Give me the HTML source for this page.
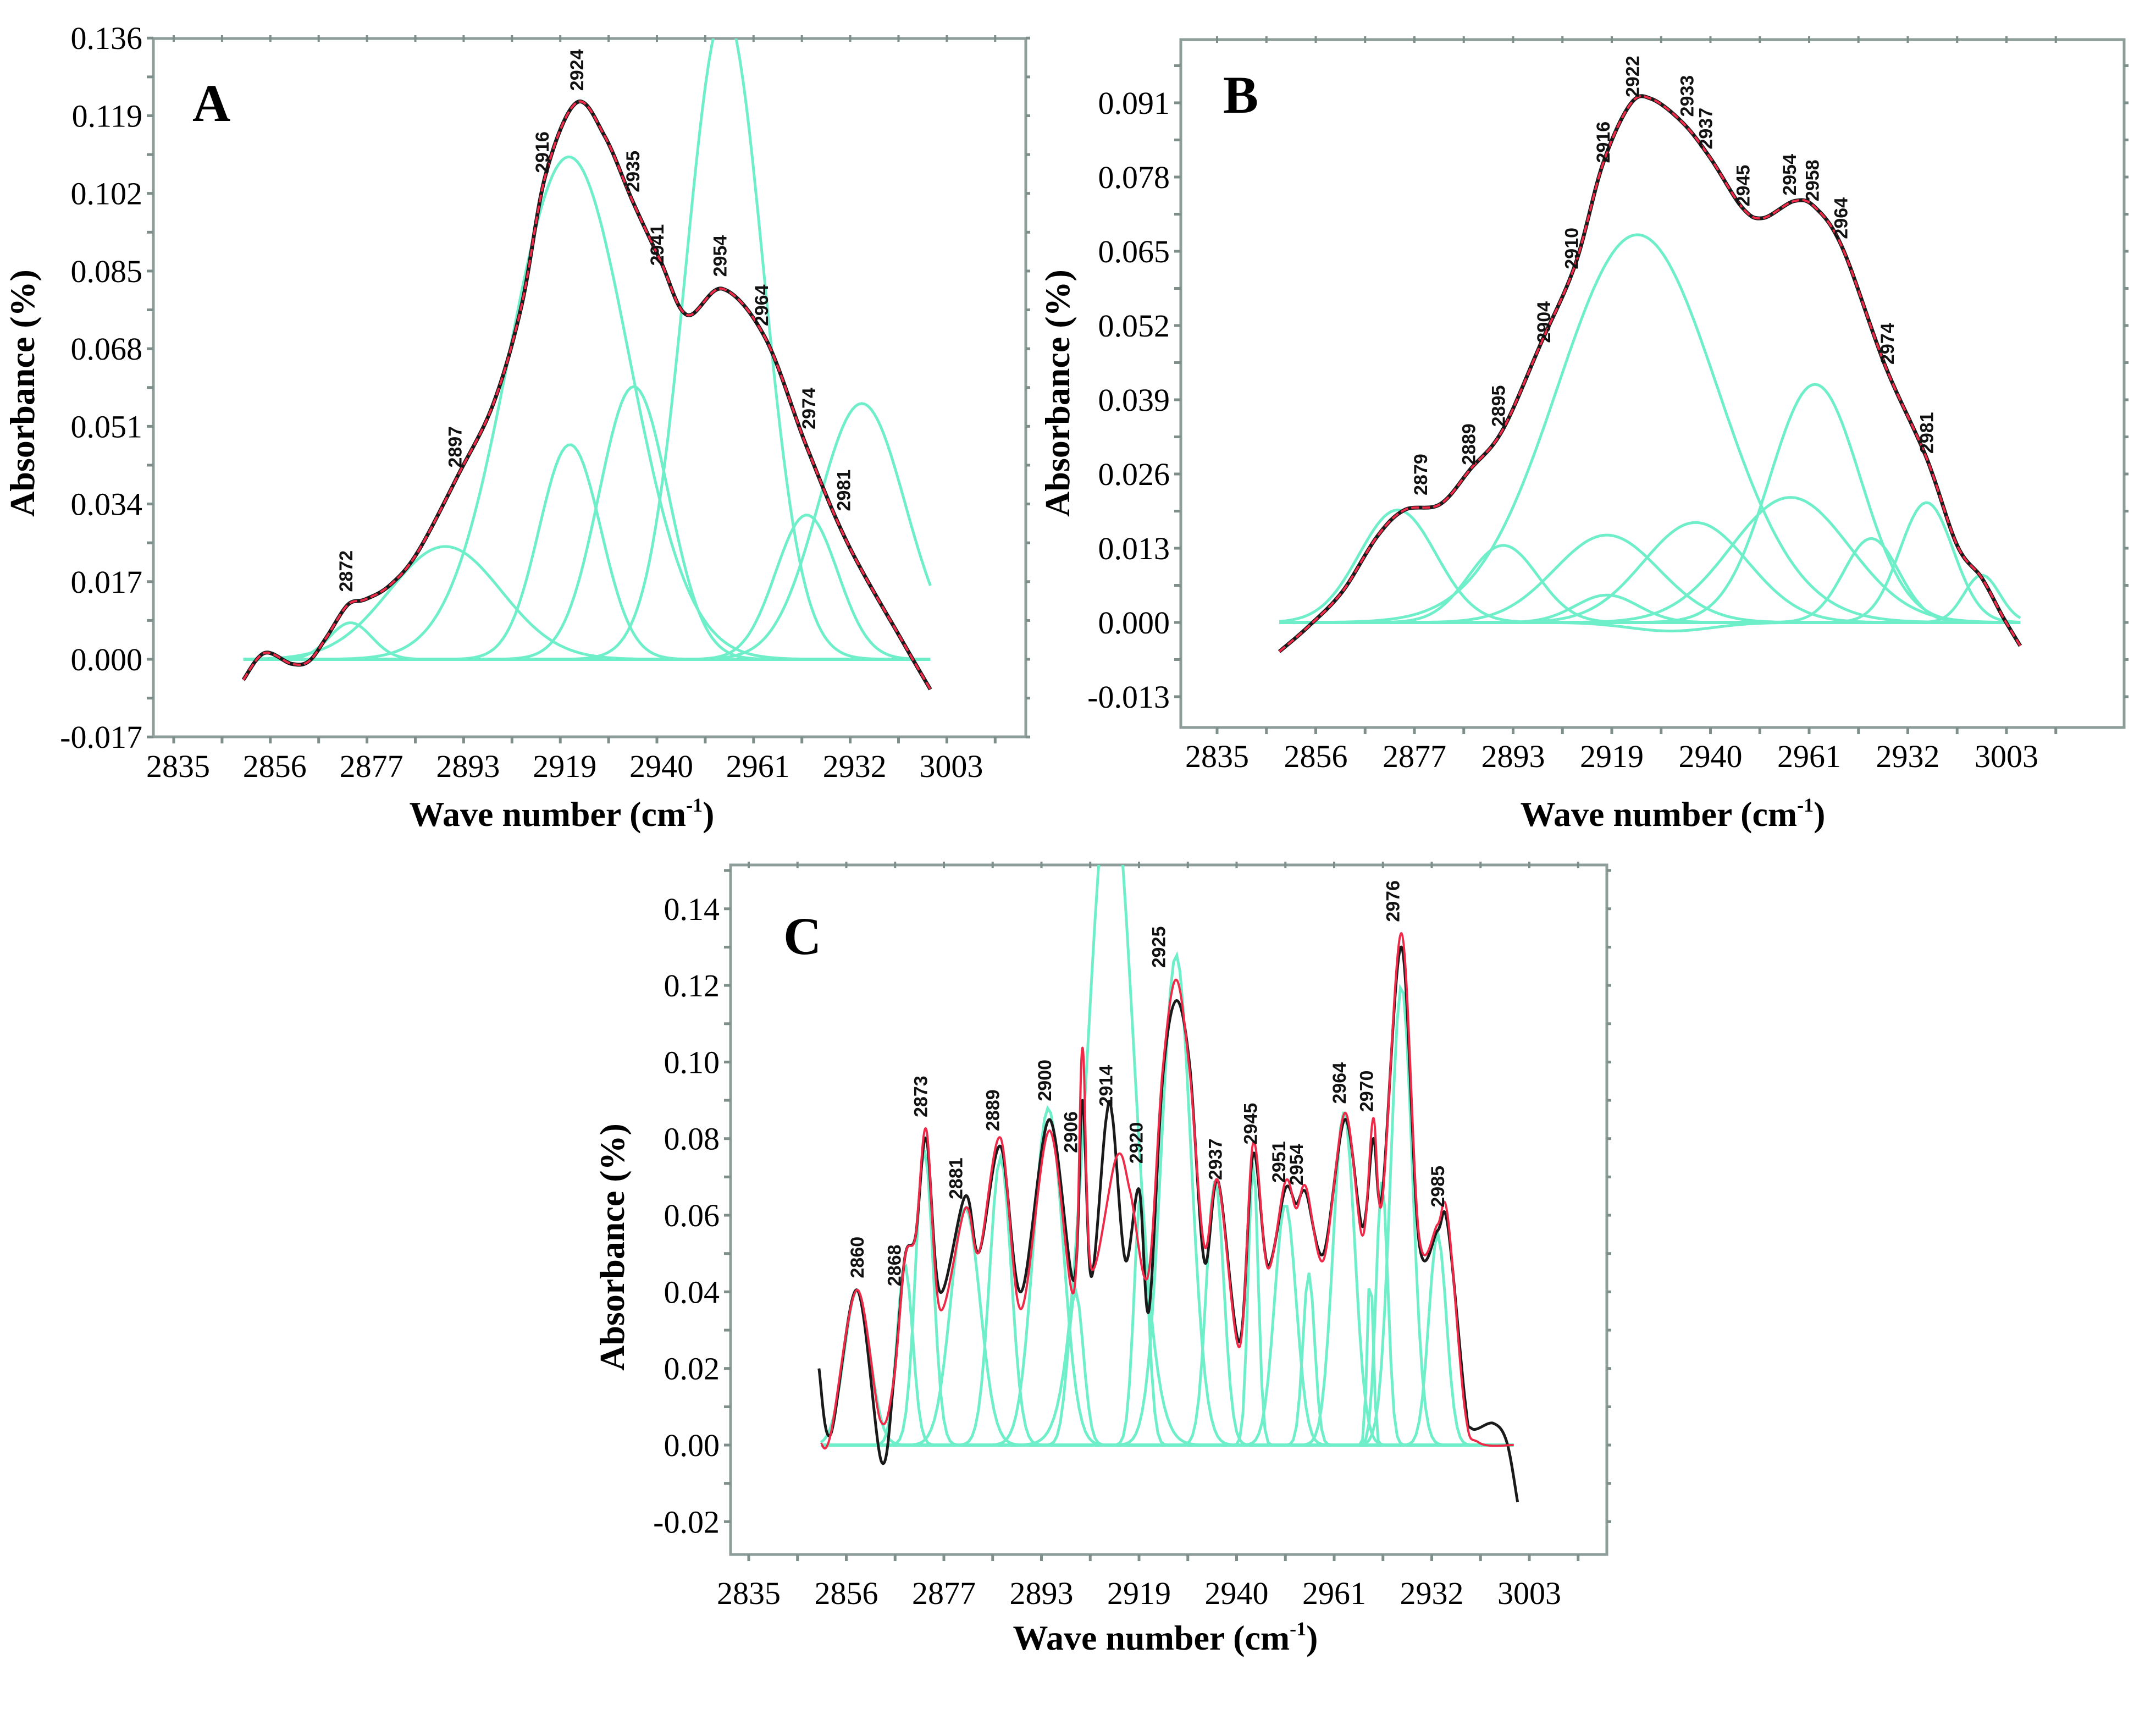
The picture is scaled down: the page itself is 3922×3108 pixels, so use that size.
<!DOCTYPE html>
<html><head><meta charset="utf-8"><style>
html,body{margin:0;padding:0;background:#fff;}
svg{display:block;}
.tk{font-family:"Liberation Serif",serif;font-size:58px;fill:#000;}
.ttl{font-family:"Liberation Serif",serif;font-size:64px;font-weight:bold;fill:#000;}
.pl{font-family:"Liberation Serif",serif;font-size:96px;font-weight:bold;fill:#000;}
.pk{font-family:"Liberation Sans",sans-serif;font-size:34px;font-weight:bold;fill:#111;}
</style></head><body>
<svg id="fig" width="3922" height="3108" viewBox="0 0 3922 3108" xmlns="http://www.w3.org/2000/svg"></svg>
<script>
// ===== Shared axis labels =====
const xTickLabels = ['2835','2856','2877','2893','2919','2940','2961','2932','3003'];
// ===== Panel A data (x = tick index 0..8, y = absorbance) =====
const aYTicks = [-0.017,0,0.017,0.034,0.051,0.068,0.085,0.102,0.119,0.136];
const aYTickText = ['-0.017','0.000','0.017','0.034','0.051','0.068','0.085','0.102','0.119','0.136'];
const aCompCenter = [1.83,2.81,4.09,4.10,4.76,5.70,6.55,7.12];
const aCompHeight = [0.008,0.0247,0.110,0.047,0.0597,0.142,0.0316,0.056];
const aCompWidth  = [0.22,0.58,0.62,0.32,0.36,0.40,0.32,0.45];
const aDomain = [0.72,7.83];
const aFitX = [0.72,0.94,1.22,1.40,1.58,1.80,1.98,2.23,2.52,2.95,3.31,3.60,3.85,4.17,4.46,4.75,5.04,5.31,5.68,6.12,6.55,6.98,7.55,7.83];
const aFitY = [-0.0045,0.0014,-0.001,-0.0004,0.0048,0.0119,0.0131,0.0161,0.0233,0.0406,0.0561,0.0775,0.1062,0.1219,0.1145,0.1002,0.0871,0.0754,0.0811,0.0704,0.0465,0.0251,0.0036,-0.0066];
const aPeakText = ['2872','2897','2916','2924','2935','2941','2954','2964','2974','2981'];
const aPeakX = [1.78,2.91,3.81,4.17,4.75,5.0,5.65,6.08,6.57,6.93];
const aPeakY = [0.0193,0.0465,0.111,0.129,0.1068,0.0907,0.0883,0.0775,0.0549,0.037];
// ===== Panel B data =====
const bYTicks = [-0.013,0,0.013,0.026,0.039,0.052,0.065,0.078,0.091];
const bYTickText = ['-0.013','0.000','0.013','0.026','0.039','0.052','0.065','0.078','0.091'];
const bCompCenter = [1.83,2.90,3.95,3.95,4.26,4.85,4.60,5.81,6.06,6.63,7.19,7.75];
const bCompHeight = [0.0197,0.0135,0.0153,0.0048,0.0679,0.0175,-0.0015,0.0219,0.0417,0.0147,0.021,0.0083];
const bCompWidth  = [0.39,0.35,0.53,0.32,0.81,0.53,0.42,0.60,0.46,0.28,0.27,0.18];
const bDomain = [0.63,8.14];
const bFitX = [0.63,0.92,1.27,1.62,1.90,2.26,2.57,2.89,3.28,3.63,3.91,4.19,4.40,4.72,5.0,5.32,5.53,5.85,6.06,6.34,6.77,7.19,7.5,7.75,7.96,8.14];
const bFitY = [-0.0051,-0.0008,0.0054,0.015,0.0197,0.0207,0.0269,0.0336,0.0488,0.0627,0.0803,0.0908,0.0917,0.0875,0.0813,0.0727,0.0708,0.0738,0.0727,0.0655,0.045,0.0288,0.0135,0.0078,0.0011,-0.0041];
const bPeakText = ['2879','2889','2895','2904','2910','2916','2922','2933','2937','2945','2954','2958','2964','2974','2981'];
const bPeakX = [2.06,2.55,2.85,3.31,3.59,3.91,4.21,4.76,4.95,5.33,5.80,6.03,6.32,6.79,7.19];
const bPeakY = [0.0259,0.0312,0.0379,0.0526,0.0655,0.0841,0.0956,0.0922,0.0865,0.0765,0.0784,0.0774,0.0708,0.0488,0.0332];
// ===== Panel C data =====
const cYTicks = [-0.02,0,0.02,0.04,0.06,0.08,0.10,0.12,0.14];
const cYTickText = ['-0.02','0.00','0.02','0.04','0.06','0.08','0.10','0.12','0.14'];
const cCompCenter = [1.11,1.6,1.8,2.22,2.58,3.07,3.35,3.71,4.02,4.38,4.78,5.17,5.5,5.74,6.1,6.37,6.49,6.69,7.06];
const cCompHeight = [0.0405,0.047,0.077,0.062,0.075,0.088,0.040,0.175,0.066,0.128,0.069,0.075,0.063,0.045,0.087,0.046,0.069,0.12,0.055];
const cCompWidth  = [0.13,0.08,0.09,0.15,0.11,0.15,0.08,0.23,0.07,0.15,0.09,0.05,0.11,0.06,0.11,0.03,0.06,0.11,0.09];
const cDomain = [0.74,7.84];
const cFitX = [0.74,0.84,1.11,1.35,1.49,1.60,1.71,1.82,1.96,2.22,2.36,2.58,2.79,3.08,3.33,3.42,3.51,3.77,3.91,4.09,4.24,4.38,4.52,4.67,4.81,5.03,5.17,5.32,5.50,5.61,5.71,5.89,6.11,6.29,6.40,6.49,6.69,6.87,7.06,7.16,7.34,7.48,7.84];
const cFitY = [0.0003,0.0028,0.0405,0.0064,0.0178,0.049,0.0546,0.0824,0.0355,0.0618,0.0504,0.0802,0.0355,0.0821,0.0398,0.1037,0.0462,0.0753,0.0661,0.044,0.0973,0.1215,0.0973,0.052,0.0689,0.0256,0.0789,0.0462,0.0689,0.0618,0.0675,0.0483,0.0867,0.0547,0.0853,0.0633,0.1336,0.0547,0.0576,0.0604,0.0092,0.0007,0];
const cObsX = [0.72,0.84,1.11,1.36,1.49,1.60,1.71,1.82,1.96,2.22,2.36,2.58,2.79,3.08,3.33,3.42,3.51,3.66,3.73,3.86,4.0,4.1,4.24,4.38,4.52,4.67,4.81,5.03,5.17,5.32,5.50,5.61,5.71,5.89,6.11,6.29,6.40,6.49,6.69,6.87,7.06,7.16,7.34,7.41,7.63,7.77,7.88];
const cObsY = [0.02,0.0028,0.0405,-0.0043,0.0178,0.049,0.0546,0.0800,0.0400,0.0650,0.0504,0.0780,0.0400,0.0850,0.0430,0.0900,0.0440,0.0846,0.0853,0.0483,0.0668,0.035,0.0950,0.1160,0.0990,0.0480,0.0689,0.0270,0.0760,0.0470,0.0670,0.0630,0.0660,0.0500,0.0850,0.0570,0.0800,0.0650,0.1300,0.0530,0.0560,0.0580,0.0120,0.0043,0.0057,0.0007,-0.0149];
const cPeakText = ['2860','2868','2873','2881','2889','2900','2906','2914','2920','2925','2937','2945','2951','2954','2964','2970','2976','2985'];
const cPeakX = [1.11,1.49,1.76,2.12,2.50,3.03,3.30,3.66,3.97,4.20,4.78,5.14,5.43,5.61,6.05,6.33,6.60,7.06];
const cPeakY = [0.049,0.0469,0.091,0.0696,0.0874,0.0952,0.0817,0.0938,0.0789,0.130,0.0746,0.0839,0.0739,0.0732,0.0945,0.0924,0.142,0.0675];

const NS='http://www.w3.org/2000/svg';
const svg=document.getElementById('fig');
function mk(tag,attrs,parent){const e=document.createElementNS(NS,tag);for(const k in attrs)e.setAttribute(k,attrs[k]);(parent||svg).appendChild(e);return e;}
function smooth(pts){let d='M'+pts[0][0].toFixed(1)+','+pts[0][1].toFixed(1);
 for(let i=0;i<pts.length-1;i++){const p0=pts[Math.max(0,i-1)],p1=pts[i],p2=pts[i+1],p3=pts[Math.min(pts.length-1,i+2)];
  const c1x=p1[0]+(p2[0]-p0[0])/6,c1y=p1[1]+(p2[1]-p0[1])/6,c2x=p2[0]-(p3[0]-p1[0])/6,c2y=p2[1]-(p3[1]-p1[1])/6;
  d+=' C'+c1x.toFixed(1)+','+c1y.toFixed(1)+' '+c2x.toFixed(1)+','+c2y.toFixed(1)+' '+p2[0].toFixed(1)+','+p2[1].toFixed(1);}
 return d;}

function panel(cfg){
 const g=mk('g',{});
 
 
 const X=i=>cfg.x0+cfg.dx*i, Y=v=>cfg.y0-cfg.ky*v;
 const clipId=cfg.name+'-clip';
 const cp=mk('clipPath',{id:clipId},g);
 mk('rect',{x:cfg.L,y:cfg.T,width:cfg.R-cfg.L,height:cfg.B-cfg.T},cp);
 // frame
 const fr=mk('rect',{x:cfg.L,y:cfg.T,width:cfg.R-cfg.L,height:cfg.B-cfg.T,fill:'none',stroke:'#8c9d9a','stroke-width':5},g);
 
 
 // y ticks
 const step=cfg.yTicks[1]-cfg.yTicks[0];
 cfg.yTicks.forEach((v,k)=>{
  [v, v+step/2].forEach((tv,j)=>{const y=Y(tv); if(y<cfg.T-2||y>cfg.B+2)return;
   mk('line',{x1:cfg.L-12,x2:cfg.L,y1:y,y2:y,stroke:'#7d8e8b','stroke-width':5},g);
   mk('line',{x1:cfg.R,x2:cfg.R+8,y1:y,y2:y,stroke:'#7d8e8b','stroke-width':5},g);});
  const t=mk('text',{x:cfg.L-20,y:Y(v)+20,'text-anchor':'end',class:'tk'},g);
  
  
  t.textContent=cfg.yTickText[k];
 });
 // x ticks
 xTickLabels.forEach((s,i)=>{
  [i,i+0.5].forEach(ti=>{const x=X(ti); if(x<cfg.L||x>cfg.R)return;
   mk('line',{x1:x,x2:x,y1:cfg.B,y2:cfg.B+12,stroke:'#7d8e8b','stroke-width':5},g);
   mk('line',{x1:x,x2:x,y1:cfg.T-6,y2:cfg.T+6,stroke:'#7d8e8b','stroke-width':4},g);});
  const t=mk('text',{x:X(i)+cfg.lx,y:cfg.xLabY,'text-anchor':'middle',class:'tk'},g);
  
  
  t.textContent=s;
 });
 const plot=mk('g',{'clip-path':'url(#'+clipId+')'},g);
 // components
 const base=mk('line',{x1:X(cfg.dom[0]),x2:X(cfg.dom[1]),y1:Y(0),y2:Y(0),stroke:'#6eeec9','stroke-width':6},plot);
 
 
 cfg.cc.forEach((c,k)=>{
  const pts=[];const N=220;
  for(let n=0;n<=N;n++){const xi=cfg.dom[0]+(cfg.dom[1]-cfg.dom[0])*n/N;
   const v=cfg.ch[k]*Math.exp(-Math.pow(xi-c,2)/(2*cfg.cw[k]*cfg.cw[k]));pts.push(X(xi).toFixed(1)+','+Y(v).toFixed(1));}
  const p=mk('polyline',{points:pts.join(' '),fill:'none',stroke:'#6eeec9','stroke-width':5},plot);
  
  
 });
 if(cfg.ox){
  const o=mk('path',{d:smooth(cfg.ox.map((x,k)=>[X(x),Y(cfg.oy[k])])),fill:'none',stroke:'#1a1a1a','stroke-width':5},plot);
  
  
 } else {
  const o=mk('path',{d:smooth(cfg.fx.map((x,k)=>[X(x),Y(cfg.fy[k])])),fill:'none',stroke:'#1a1a1a','stroke-width':7},plot);
  
  
 }
 const f=mk('path',{d:smooth(cfg.fx.map((x,k)=>[X(x),Y(cfg.fy[k])])),fill:'none',stroke:'#ee2a48','stroke-width':4,'stroke-dasharray':cfg.ox?'none':'14 6'},plot);
 
 
 // peak labels
 cfg.pt.forEach((s,k)=>{
  const x=X(cfg.px[k]),y=Y(cfg.py[k]);
  const t=mk('text',{x:x,y:y,'text-anchor':'middle',class:'pk',transform:'rotate(-90 '+x+' '+y+') translate(0 12)'},g);
  
  
  t.textContent=s;
 });
 // panel letter
 const pl=mk('text',{x:cfg.letX,y:cfg.letY,class:'pl'},g);
 
 
 pl.textContent=cfg.letter;
 // axis titles
 const yt=mk('text',{x:cfg.ytX,y:cfg.ytY,'text-anchor':'middle',class:'ttl',transform:'rotate(-90 '+cfg.ytX+' '+cfg.ytY+')'},g);
 
 
 yt.textContent='Absorbance (%)';
 const xt=mk('text',{x:cfg.xtX,y:cfg.xtY,'text-anchor':'middle',class:'ttl'},g);
 
 
 xt.innerHTML='Wave number (cm<tspan dy="-26" font-size="36">-1</tspan><tspan dy="26">)</tspan>';
}

panel({name:'panel-a',L:279,R:1866,T:70,B:1340,x0:316,dx:175.8,y0:1199,ky:8307,lx:8,xLabY:1413,
 yTicks:aYTicks,yTickText:aYTickText,cc:aCompCenter,ch:aCompHeight,cw:aCompWidth,dom:aDomain,
 fx:aFitX,fy:aFitY,pt:aPeakText,px:aPeakX,py:aPeakY,letter:'A',letX:350,letY:220,
 ytX:62,ytY:715,xtX:1022,xtY:1502});
panel({name:'panel-b',L:2148,R:3864,T:72,B:1323,x0:2214,dx:179.5,y0:1132,ky:10385,lx:0,xLabY:1395,
 yTicks:bYTicks,yTickText:bYTickText,cc:bCompCenter,ch:bCompHeight,cw:bCompWidth,dom:bDomain,
 fx:bFitX,fy:bFitY,pt:bPeakText,px:bPeakX,py:bPeakY,letter:'B',letX:2225,letY:205,
 ytX:1945,ytY:715,xtX:3043,xtY:1502});
panel({name:'panel-c',L:1329,R:2923,T:1573,B:2827,x0:1362,dx:177.5,y0:2628,ky:6966,lx:0,xLabY:2917,
 yTicks:cYTicks,yTickText:cYTickText,cc:cCompCenter,ch:cCompHeight,cw:cCompWidth,dom:cDomain,
 fx:cFitX,fy:cFitY,ox:cObsX,oy:cObsY,pt:cPeakText,px:cPeakX,py:cPeakY,letter:'C',letX:1425,letY:1735,
 ytX:1135,ytY:2268,xtX:2120,xtY:3000});
</script>
</body></html>
